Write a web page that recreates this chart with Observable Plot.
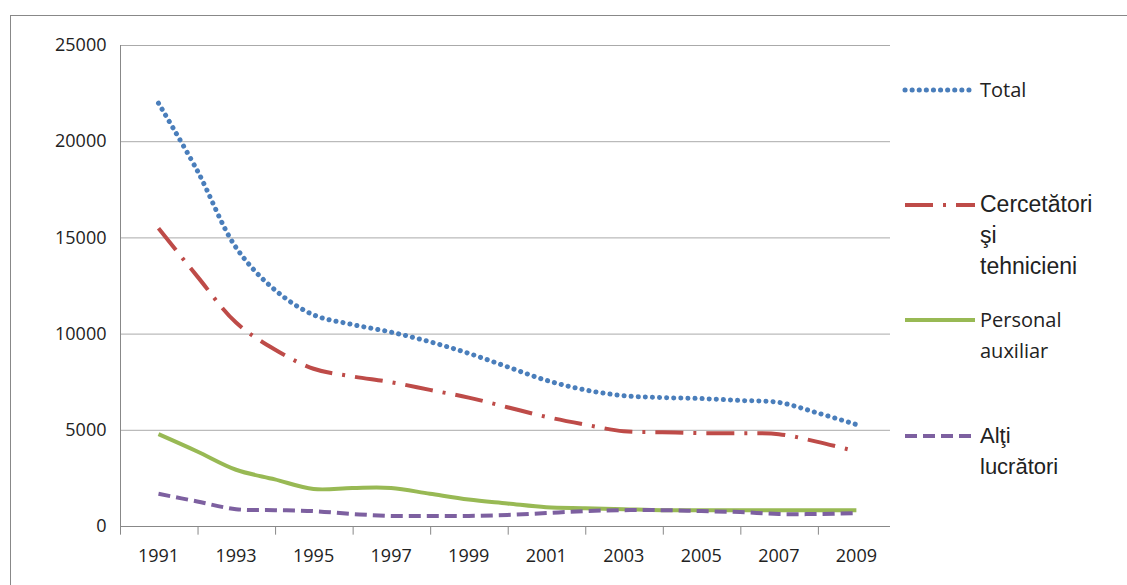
<!DOCTYPE html>
<html><head><meta charset="utf-8">
<script src="https://cdn.jsdelivr.net/npm/d3@7"></script>
<script src="https://cdn.jsdelivr.net/npm/@observablehq/plot@0.6"></script>
<style>
body{margin:0;background:#fff;}
#wrap{position:relative;width:1127px;height:585px;}
#border{position:absolute;left:10px;top:15px;width:1120px;height:580px;border-left:1px solid #888;border-top:1px solid #888;}
.lg{position:absolute;font-family:"Open Sans",sans-serif;font-size:20px;color:#222;line-height:31px;}
</style></head>
<body><div id="wrap"><div id="border"></div><div id="chart"></div></div>
<script>
const years = d3.range(1991, 2010)
const total = [22000,18500,14500,12300,11000,10500,10100,9600,9000,8300,7600,7100,6800,6700,6650,6550,6450,5900,5300]
const cercetatori = [15500,13000,10600,9200,8200,7800,7500,7100,6700,6200,5700,5300,4950,4900,4850,4850,4800,4400,3900]
const personal = [4800,3900,2950,2450,1950,2000,2000,1700,1400,1200,1000,950,900,850,850,850,850,850,850]
const alti = [1700,1300,900,850,800,650,550,550,550,600,700,800,850,850,800,750,650,650,700]
const series = [
  {name:"Total", values: total, color:"#4a7ebb", dash:"0.1 7", width:5, cap:"round"},
  {name:"Cercetători şi tehnicieni", values: cercetatori, color:"#be4b48", dash:"28 10 3 10", width:4, cap:"butt"},
  {name:"Personal auxiliar", values: personal, color:"#98b954", dash:null, width:4, cap:"butt"},
  {name:"Alţi lucrători", values: alti, color:"#7d60a0", dash:"12 6", width:4, cap:"butt"}
]
const rows = s => years.map((y,i) => ({year:y, v:s.values[i]}))
const chart = Plot.plot({
  width:1127, height:585,
  marginLeft:120, marginRight:237, marginTop:45, marginBottom:59,
  style:{fontFamily:"Open Sans, sans-serif", fontSize:"18px", color:"#222", background:"transparent"},
  x:{domain:[1990.02,2009.88], axis:null},
  y:{domain:[0,25000], axis:null},
  marks:[
    Plot.ruleY(d3.range(5000,25001,5000), {stroke:"#aaa", strokeWidth:1}),
    Plot.ruleX(d3.range(1990,2010,2).map(y=>y+0.02), {y1:0, y2:-450, stroke:"#888"}),
    Plot.ruleY([0], {stroke:"#888"}),
    Plot.ruleX([1990.02], {y1:0, y2:25000, stroke:"#888"}),
    Plot.text(d3.range(0,25001,5000), {x:1990.02, y:d=>d, text:d=>String(d), textAnchor:"end", dx:-14, fontSize:18}),
    Plot.text(d3.range(1991,2010,2), {x:d=>d, y:0, text:d=>String(d), dy:30, fontSize:18}),
    ...series.map(s => Plot.line(rows(s), {x:"year", y:"v", stroke:s.color, strokeWidth:s.width,
      strokeDasharray:s.dash, strokeLinecap:s.cap, curve:"catmull-rom"}))
  ]
})
d3.select('#chart').append(() => chart)
const legend = [
  {s:series[0], y:90, lines:["Total"], font:"20px 'Open Sans'"},
  {s:series[1], y:205, lines:["Cercetători","şi","tehnicieni"], font:"23px 'Liberation Sans'"},
  {s:series[2], y:320, lines:["Personal","auxiliar"], font:"20px 'Open Sans'"},
  {s:series[3], y:436, lines:["Alţi","lucrători"], font:"22px 'Liberation Sans'"}
]
const wrap = d3.select('#wrap')
legend.forEach(l => {
  const svg = wrap.append('svg').style('position','absolute').style('left','900px').style('top',(l.y-6)+'px')
    .attr('width',80).attr('height',12)
  svg.append('line').attr('x1',5).attr('x2',75).attr('y1',6).attr('y2',6)
    .attr('stroke',l.s.color).attr('stroke-width',l.s.width).attr('stroke-dasharray',l.s.dash)
    .attr('stroke-linecap',l.s.cap)
  wrap.append('div').attr('class','lg').style('left','980px').style('top',(l.y-16)+'px')
    .style('font',l.font).style('line-height','31px').html(l.lines.join('<br>'))
})
</script></body></html>
